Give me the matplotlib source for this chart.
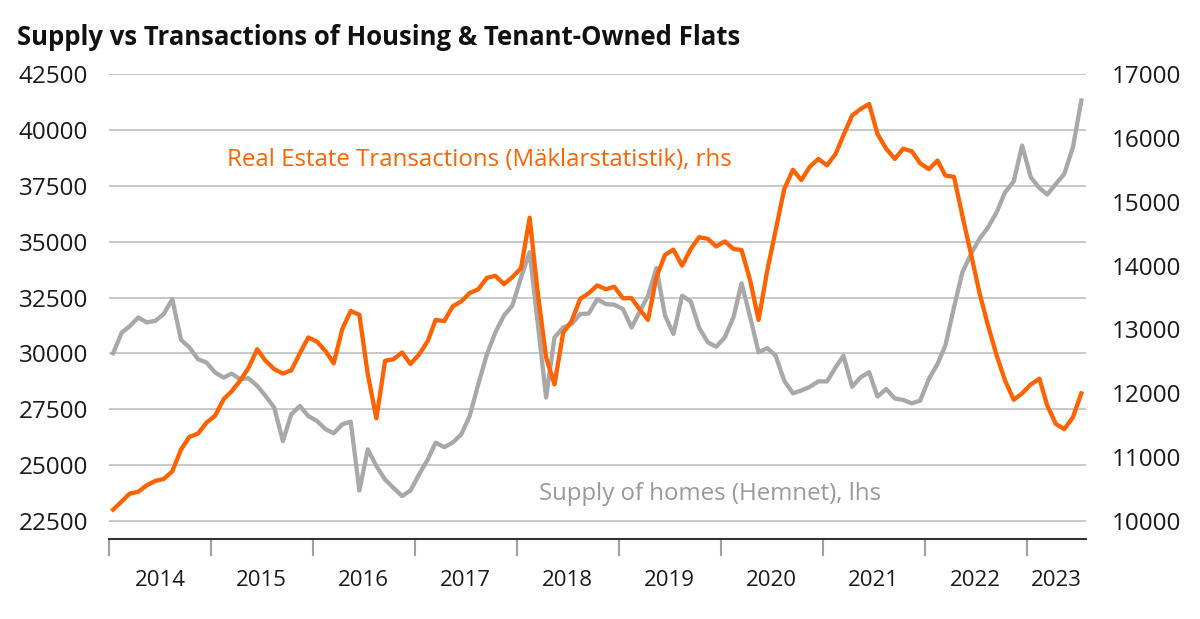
import numpy as np
import pandas as pd
import matplotlib
matplotlib.use("Agg")
import matplotlib.pyplot as plt

# monthly, Jan 2014 - Jul 2023
months = pd.date_range("2014-01-01", periods=115, freq="MS")

# Supply of homes (Hemnet), left axis
supply = [
    30010, 30940, 31210, 31610, 31390, 31460, 31760, 32430, 30610, 30270,
    29740, 29600, 29150, 28920, 29100, 28850, 28890, 28550, 28100, 27580,
    26080, 27280, 27650, 27200, 26980, 26610, 26430, 26830, 26950, 23870,
    25710, 24960, 24360, 23990, 23620, 23870, 24590, 25260, 26010, 25810,
    26010, 26380, 27200, 28620, 29970, 30940, 31700, 32135, 33400, 34530,
    31460, 28030, 30720, 31160, 31310, 31760, 31790, 32430, 32210, 32180,
    31990, 31160, 31840, 32580, 33820, 31690, 30870, 32580, 32330, 31150,
    30500, 30300, 30720, 31620, 33140, 31620, 30050, 30240, 29900, 28780,
    28220, 28340, 28510, 28750, 28750, 29380, 29900, 28510, 28930, 29160,
    28070, 28410, 27985, 27920, 27770, 27890, 28860, 29530, 30350, 32060,
    33630, 34450, 35120, 35640, 36320, 37210, 37700, 39300, 37880, 37400,
    37110, 37580, 38030, 39220, 41310,
]

# Real estate transactions (Maklarstatistik), right axis
transactions = [
    10180, 10310, 10430, 10460, 10560, 10630, 10660, 10780, 11120, 11320,
    11370, 11540, 11650, 11910, 12030, 12200, 12400, 12690, 12510, 12380,
    12310, 12360, 12630, 12875, 12810, 12660, 12470, 13010, 13290, 13230,
    12300, 11610, 12510, 12535, 12640, 12460, 12610, 12820, 13150, 13130,
    13360, 13440, 13570, 13630, 13810, 13840, 13710, 13820, 13960, 14750,
    13610, 12560, 12140, 12950, 13130, 13480, 13570, 13690, 13630, 13670,
    13490, 13490, 13320, 13150, 13820, 14170, 14250, 14000, 14260, 14445,
    14420, 14300, 14380, 14260, 14245, 13765, 13150, 13920, 14550, 15200,
    15500, 15340, 15550, 15670, 15570, 15750, 16040, 16350, 16450, 16530,
    16060, 15830, 15670, 15830, 15790, 15600, 15510, 15645, 15410, 15390,
    14780, 14180, 13580, 13060, 12590, 12200, 11900, 12000, 12140, 12230,
    11810, 11520, 11440, 11625, 12000,
]

years = [str(y) for y in range(2014, 2024)]
left_ticks = list(range(22500, 42501, 2500))
right_ticks = list(range(10000, 17001, 1000))

ORANGE = "#FF6200"
GREY = "#A8A8A8"
plt.rcParams["font.family"] = ["Open Sans", "DejaVu Sans"]

fig = plt.figure(figsize=(12, 6.19), dpi=100)
ax = fig.add_axes([0.0908, 0.1292, 0.8140, 0.7513])
ax2 = ax.twinx()

x = months + pd.Timedelta(days=15)
ax.plot(x, supply, color=GREY, lw=3.1, zorder=3)
ax2.plot(x, transactions, color=ORANGE, lw=3.1, zorder=3)

start = pd.Timestamp("2014-01-01")
end = pd.Timestamp("2023-08-01")
ax.set_xlim(start, end)
ax.set_ylim(21700, 42500)
ax2.set_ylim(10000 - 800 * 0.35, 17000)
ax.set_yticks(left_ticks)
ax.set_yticklabels([str(v) for v in left_ticks])
ax2.set_yticks(right_ticks)
ax2.set_yticklabels([str(v) for v in right_ticks])

ax.grid(axis="y", color="#C8C8C8", lw=1.4)
ax.set_axisbelow(True)

# year boundaries as ticks, labels centred in each year
year_starts = [pd.Timestamp(f"{y}-01-01") for y in years]
ax.set_xticks(year_starts)
ax.set_xticklabels([])
label_pos = []
for i, ys in enumerate(year_starts):
    ye = year_starts[i + 1] if i + 1 < len(year_starts) else end
    label_pos.append(ys + (ye - ys) / 2)
ax.set_xticks(label_pos, minor=True)
ax.set_xticklabels(years, minor=True)
ax.tick_params(axis="x", which="major", length=12, width=1.5, color="#A0A0A0")
ax.tick_params(axis="x", which="minor", length=0, pad=22, labelsize=16, labelcolor="#1a1a1a")
ax.tick_params(axis="y", length=0, pad=15, labelsize=17.5, labelcolor="#1a1a1a")
ax2.tick_params(axis="y", length=0, pad=19, labelsize=17.5, labelcolor="#1a1a1a")

for a in (ax, ax2):
    for s in ("top", "left", "right", "bottom"):
        a.spines[s].set_visible(False)
ax.spines["bottom"].set_visible(True)
ax.spines["bottom"].set_color("#333333")
ax.spines["bottom"].set_linewidth(1.5)

ax.text(pd.Timestamp("2015-03-01"), 38650,
        "Real Estate Transactions (Mäklarstatistik), rhs",
        color=ORANGE, fontsize=17.3, va="center", ha="left")
ax.text(pd.Timestamp("2018-03-20"), 23720,
        "Supply of homes (Hemnet), lhs",
        color="#999999", fontsize=17.3, va="center", ha="left")

fig.text(0.014, 0.94, "Supply vs Transactions of Housing & Tenant-Owned Flats",
         fontsize=18.5, fontweight="bold", color="#111111", va="center", ha="left")

fig.savefig("out.png", dpi=100)
